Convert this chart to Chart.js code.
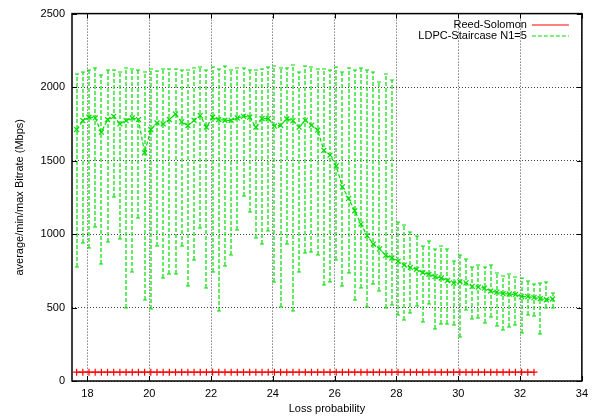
<!DOCTYPE html>
<html>
<head>
<meta charset="utf-8">
<script src="https://cdn.jsdelivr.net/npm/chart.js@4"></script>
<style>
  html, body { margin: 0; padding: 0; background: #fff; }
  canvas { display: block; }
</style>
</head>
<body>
<canvas id="chart" width="594" height="420"></canvas>
<script>
// tick labels
const xTicks = [18, 20, 22, 24, 26, 28, 30, 32, 34];
const yTicks = [0, 500, 1000, 1500, 2000, 2500];

// loss probability for every measured point
const lossValues = [
  17.65, 17.85, 18.05, 18.25, 18.45, 18.65, 18.85, 19.05, 19.25, 19.45,
  19.65, 19.85, 20.05, 20.25, 20.45, 20.65, 20.85, 21.05, 21.25, 21.45,
  21.65, 21.85, 22.05, 22.25, 22.45, 22.65, 22.85, 23.05, 23.25, 23.45,
  23.65, 23.85, 24.05, 24.25, 24.45, 24.65, 24.85, 25.05, 25.25, 25.45,
  25.65, 25.85, 26.05, 26.25, 26.45, 26.65, 26.85, 27.05, 27.25, 27.45,
  27.65, 27.85, 28.05, 28.25, 28.45, 28.65, 28.85, 29.05, 29.25, 29.45,
  29.65, 29.85, 30.05, 30.25, 30.45, 30.65, 30.85, 31.05, 31.25, 31.45,
  31.65, 31.85, 32.05, 32.25, 32.45, 32.65, 32.85, 33.05
];

// Reed-Solomon (stops at 32.45)
const rsBitrate = [
  60, 60, 60, 60, 60, 60, 60, 60, 60, 60,
  60, 60, 60, 60, 60, 60, 60, 60, 60, 60,
  60, 60, 60, 60, 60, 60, 60, 60, 60, 60,
  60, 60, 60, 60, 60, 60, 60, 60, 60, 60,
  60, 60, 60, 60, 60, 60, 60, 60, 60, 60,
  60, 60, 60, 60, 60, 60, 60, 60, 60, 60,
  60, 60, 60, 60, 60, 60, 60, 60, 60, 60,
  60, 60, 60, 60, 60
];

// LDPC-Staircase N1=5 : average, min, max
const ldpcAvg = [
  1711, 1772, 1795, 1790, 1693, 1779, 1801, 1749, 1772, 1790,
  1779, 1553, 1711, 1756, 1749, 1779, 1817, 1763, 1738, 1774,
  1806, 1727, 1795, 1779, 1774, 1774, 1790, 1801, 1795, 1727,
  1786, 1786, 1734, 1740, 1783, 1772, 1727, 1774, 1740, 1707,
  1569, 1537, 1463, 1321, 1242, 1158, 1068, 989, 932, 899,
  855, 837, 814, 789, 773, 760, 737, 726, 710, 701,
  684, 666, 675, 668, 644, 639, 632, 612, 605, 594,
  592, 589, 574, 574, 567, 560, 553, 558
];
const ldpcMin = [
  779, 939, 908, 1048, 795, 948, 1253, 966, 497, 741,
  1106, 553, 488, 921, 700, 729, 729, 917, 646, 820,
  1039, 634, 741, 474, 781, 860, 1030, 1260, 1147, 971,
  932, 1023, 677, 504, 932, 474, 745, 872, 876, 858,
  650, 673, 826, 644, 736, 553, 634, 504, 659, 610,
  495, 520, 447, 418, 463, 508, 402, 522, 355, 391,
  388, 378, 300, 480, 420, 430, 396, 437, 372, 350,
  367, 381, 327, 450, 440, 322, 500, 494
];
const ldpcMax = [
  2090, 2106, 2113, 2133, 2084, 2113, 2117, 2106, 2129, 2122,
  2117, 2106, 2122, 2111, 2124, 2122, 2122, 2117, 2117, 2129,
  2135, 2117, 2140, 2122, 2144, 2113, 2129, 2129, 2113, 2113,
  2122, 2140, 2144, 2129, 2129, 2147, 2106, 2144, 2135, 2122,
  2122, 2117, 2135, 2106, 2129, 2117, 2129, 2117, 2106, 2036,
  2089, 2048, 1080, 1060, 1012, 989, 920, 955, 898, 920,
  898, 815, 858, 832, 776, 790, 773, 787, 734, 713,
  728, 711, 700, 681, 660, 670, 672, 597
];

const RED = '#ff0000';
const GREEN = '#00dd00';
const FONT = '"Liberation Sans", Arial, sans-serif';

const rsPoints = rsBitrate.map((v, i) => ({ x: lossValues[i], y: v }));
const ldpcPoints = ldpcAvg.map((v, i) => ({ x: lossValues[i], y: v }));

// min/max error bars for the LDPC series
const errorBars = {
  id: 'errorBars',
  beforeDatasetsDraw(chart) {
    const { ctx, scales: { x, y } } = chart;
    ctx.save();
    ctx.strokeStyle = GREEN;
    ctx.lineWidth = 1.2;
    ldpcAvg.forEach((v, i) => {
      const px = Math.round(x.getPixelForValue(lossValues[i]));
      const top = Math.round(y.getPixelForValue(ldpcMax[i]));
      const bot = Math.round(y.getPixelForValue(ldpcMin[i]));
      ctx.setLineDash([4, 2]);
      ctx.beginPath();
      ctx.moveTo(px, bot);
      ctx.lineTo(px, top);
      ctx.stroke();
      ctx.setLineDash([]);
      ctx.beginPath();
      ctx.moveTo(px - 2, top);
      ctx.lineTo(px + 2, top);
      ctx.moveTo(px - 2, bot);
      ctx.lineTo(px + 2, bot);
      ctx.stroke();
    });
    ctx.restore();
  }
};

// gnuplot style frame, mirrored ticks and key
const frame = {
  id: 'frame',
  afterDraw(chart) {
    const { ctx, chartArea: a, scales: { x, y } } = chart;
    ctx.save();
    ctx.strokeStyle = '#000';
    ctx.lineWidth = 1;
    ctx.beginPath();
    xTicks.forEach(v => {
      const px = Math.round(x.getPixelForValue(v)) + 0.5;
      ctx.moveTo(px, a.bottom); ctx.lineTo(px, a.bottom - 5);
      ctx.moveTo(px, a.top); ctx.lineTo(px, a.top + 5);
    });
    yTicks.forEach(v => {
      const py = Math.round(y.getPixelForValue(v)) + 0.5;
      ctx.moveTo(a.left, py); ctx.lineTo(a.left + 5, py);
      ctx.moveTo(a.right, py); ctx.lineTo(a.right - 5, py);
    });
    ctx.stroke();
    ctx.lineWidth = 1.5;
    ctx.strokeRect(a.left, a.top, a.right - a.left, a.bottom - a.top);

    // key
    ctx.font = '11px ' + FONT;
    ctx.fillStyle = '#000';
    ctx.textAlign = 'right';
    ctx.textBaseline = 'middle';
    const keys = [
      { label: 'Reed-Solomon', color: RED, dash: [] },
      { label: 'LDPC-Staircase N1=5', color: GREEN, dash: [4, 2] }
    ];
    keys.forEach((k, i) => {
      const ky = Math.round(a.top + 11 + i * 11);
      ctx.fillText(k.label, a.right - 55, ky);
      ctx.setLineDash(k.dash);
      ctx.lineWidth = 1.2;
      ctx.strokeStyle = k.color;
      ctx.beginPath();
      ctx.moveTo(a.right - 50, ky);
      ctx.lineTo(a.right - 13, ky);
      ctx.stroke();
    });
    ctx.restore();
  }
};

new Chart(document.getElementById('chart'), {
  type: 'line',
  data: {
    datasets: [
      {
        label: 'Reed-Solomon',
        data: rsPoints,
        borderColor: RED,
        backgroundColor: RED,
        borderWidth: 1,
        pointStyle: 'cross',
        pointRadius: 3.5,
        pointBorderWidth: 1.2,
        tension: 0
      },
      {
        label: 'LDPC-Staircase N1=5',
        data: ldpcPoints,
        borderColor: GREEN,
        backgroundColor: GREEN,
        borderWidth: 1.2,
        borderDash: [4, 2],
        pointStyle: 'crossRot',
        pointRadius: 3.5,
        pointBorderWidth: 1.2,
        tension: 0
      }
    ]
  },
  options: {
    responsive: false,
    animation: false,
    devicePixelRatio: 1,
    layout: { padding: { top: 12, right: 11, left: 0, bottom: 0 } },
    plugins: {
      legend: { display: false },
      tooltip: { enabled: false }
    },
    scales: {
      x: {
        type: 'linear',
        min: 17.5,
        max: 34,
        afterBuildTicks: s => { s.ticks = xTicks.map(v => ({ value: v })); },
        afterFit: s => { s.height = 39; },
        grid: { color: '#444', lineWidth: 1, drawTicks: false },
        border: { display: false, dash: [1, 2] },
        ticks: {
          color: '#000',
          padding: 6,
          maxRotation: 0,
          callback: v => String(v),
          font: { family: FONT, size: 11 }
        },
        title: {
          display: true,
          text: 'Loss probability',
          color: '#000',
          padding: { top: 0, bottom: 4 },
          font: { family: FONT, size: 11 }
        }
      },
      y: {
        min: 0,
        max: 2500,
        afterBuildTicks: s => { s.ticks = yTicks.map(v => ({ value: v })); },
        afterFit: s => { s.width = 72; },
        grid: { color: '#444', lineWidth: 1, drawTicks: false },
        border: { display: false, dash: [1, 2] },
        ticks: {
          color: '#000',
          padding: 7,
          callback: v => String(v),
          font: { family: FONT, size: 11 }
        },
        title: {
          display: true,
          text: 'average/min/max Bitrate (Mbps)',
          color: '#000',
          padding: { top: 13, bottom: 0 },
          font: { family: FONT, size: 11 }
        }
      }
    }
  },
  plugins: [errorBars, frame]
});
</script>
</body>
</html>
